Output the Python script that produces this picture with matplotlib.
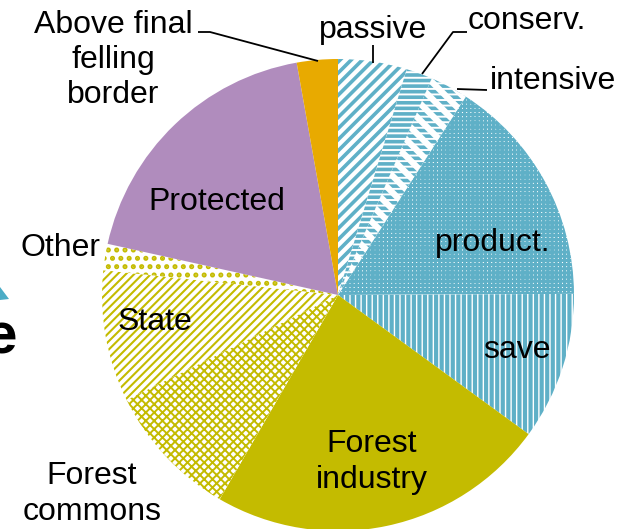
import matplotlib.pyplot as plt
from matplotlib.patches import Wedge, Polygon

plt.rcParams['font.family'] = ['Liberation Sans', 'DejaVu Sans']
plt.rcParams['hatch.linewidth'] = 2.6

W, H = 632, 529

# slices, clockwise from 12 o'clock
labels = ['passive', 'conserv.', 'intensive', 'product.', 'save',
          'Forest\nindustry', 'Forest\ncommons', 'State', 'Other',
          'Protected', 'Above final\nfelling\nborder']
shares = [4.7, 1.8, 2.6, 15.8, 10.1, 23.3, 9.3, 9.0, 1.8, 18.7, 2.8]

blue = '#5FB0C7'
olive = '#C4BB00'
purple = '#B08CBD'
orange = '#E8AA00'

# (face, hatch colour, hatch, hatch lw)
styles = [('white', blue, '///', 2.6),
          ('white', blue, '---', 2.6),
          ('white', blue, '---', 2.6),
          ('white', blue, '++++', 2.2),
          ('white', blue, '|||', 3.0),
          (olive, olive, '', 1.0),
          ('white', olive, 'xxxx', 1.4),
          ('white', olive, '////', 1.5),
          ('white', olive, '..', 2.4),
          (purple, purple, '', 1.0),
          (orange, orange, '', 1.0)]

# label positions in pixels (x, y from top)
label_pos = [(373, 30), (527, 21), (553, 81), (493, 243), (517, 350),
             (372, 462), (92, 494), (155, 322), (60, 248), (217, 202),
             (113, 60)]

# leader lines in pixels
leaders = [[(373, 45), (373, 63)],
           [(467, 32), (453, 32), (422, 74)],
           [(487, 90), (457, 89)],
           [(198, 32), (210, 32), (318, 61)]]

fig = plt.figure(figsize=(W / 100, H / 100), dpi=100)
ax = fig.add_axes([0, 0, 1, 1])

wedges, _ = ax.pie(shares, startangle=90, counterclock=False,
                   radius=236, center=(338, H - 295), frame=False)

for w, (fc, hc, h, lw) in zip(wedges, styles):
    w.set_facecolor(fc)
    w.set_edgecolor(hc)
    w.set_linewidth(0)
    if h:
        w.set_hatch(h)
        if hasattr(w, 'set_hatch_linewidth'):
            w.set_hatch_linewidth(lw)

# wide white bars on the "intensive" slice
wi = wedges[2]
over = Wedge(wi.center, wi.r, wi.theta1, wi.theta2, facecolor='none',
             edgecolor='white', linewidth=0, hatch='\\\\')
if hasattr(over, 'set_hatch_linewidth'):
    over.set_hatch_linewidth(4.5)
ax.add_patch(over)

for lab, (x, y) in zip(labels, label_pos):
    ax.text(x, H - y, lab, ha='center', va='center', fontsize=23,
            color='black', linespacing=1.22)

for pts in leaders:
    ax.plot([p[0] for p in pts], [H - p[1] for p in pts], color='black',
            linewidth=1.3, solid_capstyle='butt')

# bits of the slide behind the chart
ax.add_patch(Polygon([(0, H - 287), (9, H - 299), (0, H - 300)],
                     closed=True, facecolor='#4BACC6', edgecolor='none'))
ax.text(17, H - 338, 'e', ha='right', va='center', fontsize=42,
        fontweight='bold', color='black')

ax.set_xlim(0, W)
ax.set_ylim(0, H)
ax.set_aspect('equal')
ax.axis('off')

fig.savefig('out.png', dpi=100)
